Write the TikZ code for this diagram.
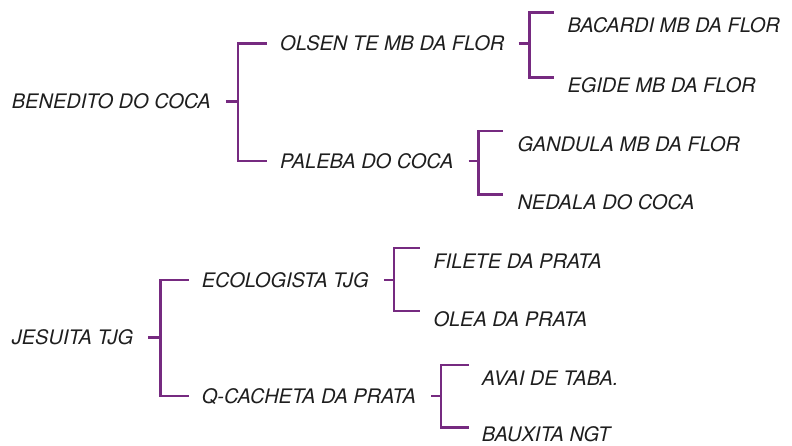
\documentclass[tikz,border=0pt]{standalone}
\usepackage{fontspec}
\setmainfont{TeX Gyre Heros}
\definecolor{branchpurple}{RGB}{118,42,128}
\definecolor{taxongray}{RGB}{30,30,30}

\begin{document}
\begin{tikzpicture}[x=1pt,y=-1pt,
    taxon/.style={anchor=west,inner sep=0pt,text height=14.4pt,text depth=0pt,
        font=\fontsize{20}{24}\selectfont\itshape,text=taxongray},
    branch/.style={draw=branchpurple,line width=2.6pt}]
\useasboundingbox (0,0) rectangle (792,445);

% first family
\node [taxon] (bene)    at (11.7,101.7) {BENEDITO DO COCA};
\node [taxon] (olsen)   at (280,43.5)   {OLSEN TE MB DA FLOR};
\node [taxon] (paleba)  at (280,161)    {PALEBA DO COCA};
\node [taxon] (bacardi) at (567.3,25.7) {BACARDI MB DA FLOR};
\node [taxon] (egide)   at (567.3,85.7) {EGIDE MB DA FLOR};
\node [taxon] (gandula) at (517.3,144)  {GANDULA MB DA FLOR};
\node [taxon] (nedala)  at (517.3,202.5) {NEDALA DO COCA};

% second family
\node [taxon] (jesuita) at (11.7,337.3) {JESUITA TJG};
\node [taxon] (ecolo)   at (201.7,280)  {ECOLOGISTA TJG};
\node [taxon] (qcach)   at (201.7,396)  {Q-CACHETA DA PRATA};
\node [taxon] (filete)  at (433.3,261)  {FILETE DA PRATA};
\node [taxon] (olea)    at (433.3,319)  {OLEA DA PRATA};
\node [taxon] (avai)    at (481.7,378)  {AVAI DE TABA.};
\node [taxon] (bauxita) at (481.7,434.6) {BAUXITA NGT};

% brackets
\draw [branch] ([xshift=15pt]bene.east) -- ++(12,0) coordinate (bene-j)
    (bene-j) |- ([xshift=-13pt]olsen.west)
    (bene-j) |- ([xshift=-13pt]paleba.west);
\draw [branch] ([xshift=14pt]olsen.east) -- ++(11,0) coordinate (olsen-j)
    (olsen-j) |- ([xshift=-13pt,yshift=13pt]bacardi.west)
    (olsen-j) |- ([xshift=-13pt,yshift=8pt]egide.west);
\draw [branch] ([xshift=15pt]paleba.east) -- ++(10,0) coordinate (paleba-j)
    (paleba-j) |- ([xshift=-14pt,yshift=13pt]gandula.west)
    (paleba-j) |- ([xshift=-14pt,yshift=8pt]nedala.west);

\draw [branch] ([xshift=15pt]jesuita.east) -- ++(12,0) coordinate (jesuita-j)
    (jesuita-j) |- ([xshift=-13pt]ecolo.west)
    (jesuita-j) |- ([xshift=-13pt]qcach.west);
\draw [branch] ([xshift=15pt]ecolo.east) -- ++(10,0) coordinate (ecolo-j)
    (ecolo-j) |- ([xshift=-13pt,yshift=13pt]filete.west)
    (ecolo-j) |- ([xshift=-13pt,yshift=8pt]olea.west);
\draw [branch] ([xshift=15pt]qcach.east) -- ++(10,0) coordinate (qcach-j)
    (qcach-j) |- ([xshift=-13pt,yshift=13pt]avai.west)
    (qcach-j) |- ([xshift=-13pt,yshift=7pt]bauxita.west);

\end{tikzpicture}
\end{document}
